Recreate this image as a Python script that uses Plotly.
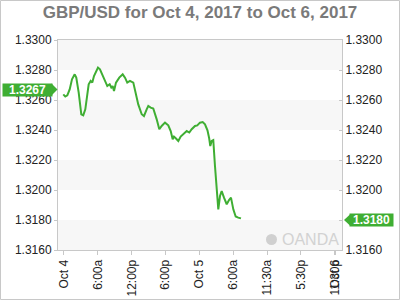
import plotly.graph_objects as go

# ---- data (hours since Oct 4 00:00, price) ----
hours = [-0.12, 0.23, 0.59, 1.01, 1.42, 1.90, 2.18, 2.61, 3.07, 3.42, 3.78, 4.13, 4.38, 4.73,
         5.02, 5.32, 5.73, 6.03, 6.38, 6.74, 7.22, 7.68, 8.10, 8.39, 8.63, 8.87, 9.22, 9.80,
         10.41, 10.82, 11.22, 11.70, 12.29, 12.77, 13.17, 13.78, 14.18, 14.66, 14.95, 15.37,
         15.83, 16.44, 16.90, 17.32, 17.91, 18.49, 18.92, 19.27, 19.50, 19.86, 20.27, 20.69,
         21.15, 21.76, 22.22, 22.64, 23.23, 23.63, 24.11, 24.59, 25.00, 25.44, 25.74, 25.94,
         26.19, 26.47, 26.77, 27.07, 27.36, 27.66, 27.96, 28.37, 28.85, 29.26, 29.61, 30.02,
         30.44, 30.90, 31.38]
prices = [1.32638, 1.32623, 1.32631, 1.32671, 1.32738, 1.32771, 1.32749, 1.32649, 1.32505,
          1.32498, 1.32538, 1.32649, 1.32705, 1.32727, 1.32716, 1.32760, 1.32793, 1.32816,
          1.32805, 1.32771, 1.32727, 1.32693, 1.32705, 1.32683, 1.32693, 1.32660, 1.32716,
          1.32749, 1.32771, 1.32749, 1.32716, 1.32727, 1.32716, 1.32638, 1.32571, 1.32505,
          1.32493, 1.32538, 1.32560, 1.32549, 1.32543, 1.32471, 1.32405, 1.32427, 1.32449,
          1.32431, 1.32393, 1.32338, 1.32356, 1.32343, 1.32327, 1.32356, 1.32371, 1.32393,
          1.32383, 1.32405, 1.32427, 1.32431, 1.32449, 1.32453, 1.32438, 1.32398, 1.32345,
          1.32293, 1.32327, 1.32333, 1.32160, 1.32005, 1.31871, 1.31960, 1.31993, 1.31949,
          1.31905, 1.31933, 1.31949, 1.31871, 1.31823, 1.31816, 1.31811]

tick_hours = [0, 6, 12, 18, 24, 30, 36, 42, 48, 48.1]
tick_labels = ["Oct 4", "6:00a", "12:00p", "6:00p", "Oct 5", "6:00a", "11:30a", "5:30p", "11:30p", "Oct 6"]
y_ticks = [1.3160, 1.3180, 1.3200, 1.3220, 1.3240, 1.3260, 1.3280, 1.3300]
open_price = 1.3267
last_price = 1.3180

GREEN = "#3fae33"
FONT = "Liberation Sans, Arial, sans-serif"
Y_MIN, Y_MAX = 1.3160, 1.3300

fig = go.Figure()
fig.add_trace(go.Scatter(x=hours, y=prices, mode="lines",
                         line=dict(color=GREEN, width=2), hoverinfo="skip", showlegend=False))
fig.add_trace(go.Scatter(x=[hours[0]], y=[prices[0]], yaxis="y2", mode="markers",
                         marker=dict(opacity=0), hoverinfo="skip", showlegend=False))

shapes = []
# alternating bands
for i in range(0, len(y_ticks) - 1):
    if i % 2 == 0:
        shapes.append(dict(type="rect", xref="paper", yref="y", x0=0, x1=1,
                           y0=y_ticks[i], y1=y_ticks[i + 1], fillcolor="#f7f7f7",
                           line=dict(width=0), layer="below"))

PW = 284.0  # plot width px
PH = 210.0  # plot height px
PX = lambda px: (px - 58) / PW
PY = lambda py: (250 - py) / PH
HH = 0.0004  # tag half height in price units (~6px)

def tri_left(p):
    return "M %f,%f L %f,%f L %f,%f Z" % (PX(51.5), p + HH, PX(57.5), p, PX(51.5), p - HH)

def tri_right(p):
    return "M %f,%f L %f,%f L %f,%f Z" % (PX(350.5), p + HH, PX(344), p, PX(350.5), p - HH)

shapes.append(dict(type="path", xref="paper", yref="y", path=tri_left(open_price),
                   fillcolor=GREEN, line=dict(width=0)))
shapes.append(dict(type="path", xref="paper", yref="y", path=tri_right(last_price),
                   fillcolor=GREEN, line=dict(width=0)))
# outer border
shapes.append(dict(type="rect", xref="paper", yref="paper",
                   x0=PX(0.5), x1=PX(399.5), y0=PY(299.5), y1=PY(0.5),
                   line=dict(color="#c8c8c8", width=1)))
# OANDA logo circle
shapes.append(dict(type="circle", xref="paper", yref="paper",
                   x0=PX(266), x1=PX(277), y0=PY(245), y1=PY(234),
                   fillcolor="#d0d0d0", line=dict(width=0)))

annotations = [
    dict(xref="paper", yref="y", x=PX(27), y=open_price, xanchor="center", yanchor="middle",
         text="<b>%.4f</b>" % open_price,
         showarrow=False, width=49, height=12, bgcolor=GREEN, borderpad=0,
         font=dict(family=FONT, size=12, color="white")),
    dict(xref="paper", yref="y", x=PX(371.5), y=last_price, xanchor="center", yanchor="middle",
         text="<b>%.4f</b>" % last_price,
         showarrow=False, width=43, height=12, bgcolor=GREEN, borderpad=0,
         font=dict(family=FONT, size=12, color="white")),
    dict(xref="paper", yref="paper", x=PX(280), y=PY(239.5), xanchor="left", yanchor="middle",
         text="OANDA", showarrow=False, font=dict(family=FONT, size=16, color="#d2d2d2")),
]

axis_common = dict(range=[Y_MIN, Y_MAX], showgrid=False, zeroline=False, showline=True,
                   linecolor="#c8c8c8", tickfont=dict(family=FONT, size=12, color="#222"),
                   ticklen=3, tickcolor="#c8c8c8", fixedrange=True, automargin=False)

fig.update_layout(
    width=400, height=300,
    margin=dict(l=58, r=58, t=40, b=50, autoexpand=False),
    paper_bgcolor="white", plot_bgcolor="white",
    title=dict(text="<b>GBP/USD for Oct 4, 2017 to Oct 6, 2017</b>", x=0.5, xanchor="center",
               y=1 - 12 / 300.0, yanchor="middle",
               font=dict(family=FONT, size=17, color="#7a7a7a")),
    xaxis=dict(range=[-1.06, 49.29], tickmode="array", tickvals=tick_hours, ticktext=tick_labels,
               tickangle=-90, showgrid=False, zeroline=False, showline=True, linecolor="#c8c8c8",
               mirror=True, ticks="outside", ticklen=4, tickcolor="#c8c8c8", automargin=False,
               tickfont=dict(family=FONT, size=12, color="#222")),
    yaxis=dict(side="left", ticks="outside", tickvals=y_ticks,
               ticktext=["%.4f" % v for v in y_ticks], **axis_common),
    yaxis2=dict(side="right", overlaying="y", ticks="inside", tickvals=y_ticks,
                ticktext=["" if v == last_price else "%.4f" % v for v in y_ticks], **axis_common),
    shapes=shapes, annotations=annotations, showlegend=False,
)

fig.write_html("out.html")
